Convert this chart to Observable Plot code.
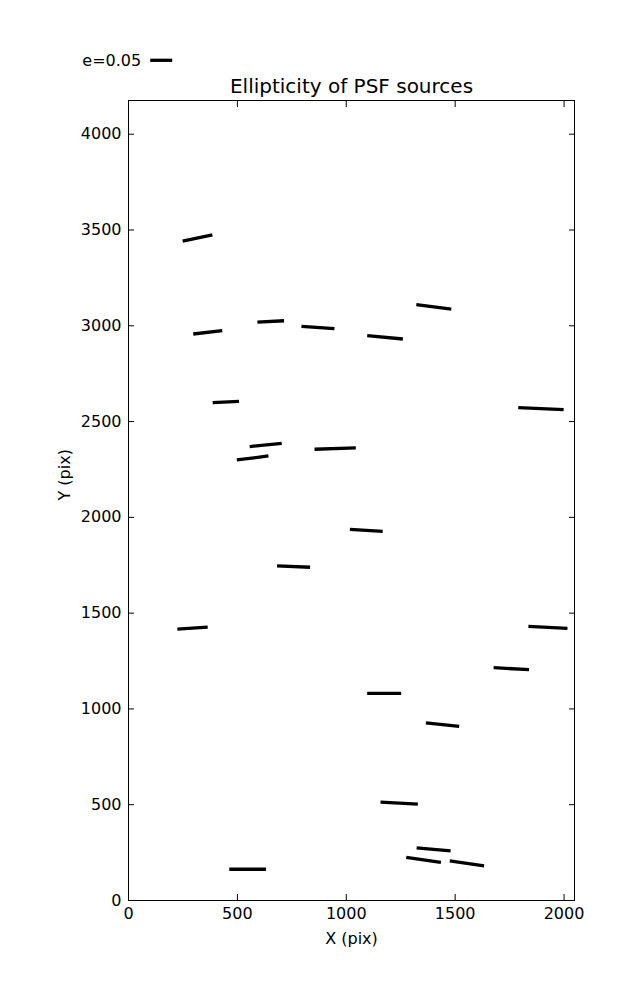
<!DOCTYPE html>
<html>
<head>
<meta charset="utf-8">
<script src="https://cdn.jsdelivr.net/npm/d3@7"></script>
<script src="https://cdn.jsdelivr.net/npm/@observablehq/plot@0.6"></script>
<style>html,body{margin:0;padding:0;background:#fff;overflow:hidden}</style>
</head>
<body>
<div id="chart"></div>
<script>
// Source positions (pix), ellipticity e, and position angle theta (deg, ccw from +X)
const srcX = [317, 364, 653, 870, 1178, 1402, 447, 1894, 630, 570, 949, 1092, 758, 294, 1926, 1758, 1174, 1442, 1243, 1401, 1355, 1554, 547];
const srcY = [3458, 2966, 3023, 2991, 2940, 3099, 2602, 2568, 2378, 2310, 2359, 1932, 1743, 1422, 1426, 1210, 1081, 918, 508, 267, 212, 194, 163];
const srcE = [0.0691, 0.0664, 0.0607, 0.0752, 0.0814, 0.0802, 0.0600, 0.1032, 0.0732, 0.0725, 0.0939, 0.0746, 0.0750, 0.0691, 0.0889, 0.0805, 0.0773, 0.0761, 0.0850, 0.0775, 0.0796, 0.0789, 0.0834];
const srcTheta = [12.0, 6.7, 2.8, -4.0, -5.5, -7.2, 2.9, -2.5, 5.9, 7.2, 1.8, -3.5, -2.3, 3.8, -2.9, -3.2, 0.0, -5.7, -3.1, -5.0, -8.2, -8.3, 0.0];

const xTicks = [0, 500, 1000, 1500, 2000];
const yTicks = [0, 500, 1000, 1500, 2000, 2500, 3000, 3500, 4000];
const legendE = [0.05];
const legendLabel = ["e=0.05"];
const titleText = ["Ellipticity of PSF sources"];
const xLabel = ["X (pix)"];
const yLabel = ["Y (pix)"];

const sources = srcX.map((x, i) => ({x, y: srcY[i], e: srcE[i], theta: srcTheta[i]}));
const stick = {draw(ctx, l) { ctx.moveTo(0, 0); ctx.lineTo(0, -l); }};

const chart = Plot.plot({
  width: 637,
  height: 1000,
  marginLeft: 128,
  marginRight: 63,
  marginTop: 100,
  marginBottom: 100,
  style: {fontFamily: "'DejaVu Sans', sans-serif", fontSize: "16px", background: "#fff", color: "#000", overflow: "visible"},
  x: {domain: [0, 2048]},
  y: {domain: [0, 4176]},
  length: {type: "linear", domain: [0, 0.05], range: [0, 22]},
  marks: [
    Plot.frame({stroke: "#000", strokeWidth: 1}),
    Plot.axisX({ticks: xTicks, anchor: "bottom", tickSize: -6, tickPadding: 13, tickFormat: "d", label: null}),
    Plot.axisX({ticks: xTicks, anchor: "top", tickSize: -6, tickFormat: () => "", label: null}),
    Plot.axisY({ticks: yTicks, anchor: "left", tickSize: -6, tickPadding: 13, tickFormat: "d", label: null}),
    Plot.axisY({ticks: yTicks, anchor: "right", tickSize: -6, tickFormat: () => "", label: null}),
    Plot.vector(sources, {x: "x", y: "y", length: "e", rotate: d => 90 - d.theta, anchor: "middle", shape: stick, stroke: "#000", strokeWidth: 3.3, strokeLinecap: "butt"}),
    Plot.text(titleText, {text: d => d, frameAnchor: "top", dy: -14.2, lineAnchor: "middle", fontSize: 20}),
    Plot.text(xLabel, {text: d => d, frameAnchor: "bottom", dy: 38, lineAnchor: "middle"}),
    Plot.text(yLabel, {text: d => d, frameAnchor: "left", dx: -64, rotate: -90, lineAnchor: "middle"}),
    Plot.text(legendLabel, {text: d => d, frameAnchor: "top-left", dx: 12.7, dy: -40.1, textAnchor: "end", lineAnchor: "middle"}),
    Plot.vector(legendE, {length: d => d, frameAnchor: "top-left", dx: 32.7, dy: -40.2, rotate: 90, anchor: "middle", shape: stick, stroke: "#000", strokeWidth: 3.3, strokeLinecap: "butt"})
  ]
});
document.getElementById("chart").appendChild(chart);
</script>
</body>
</html>
